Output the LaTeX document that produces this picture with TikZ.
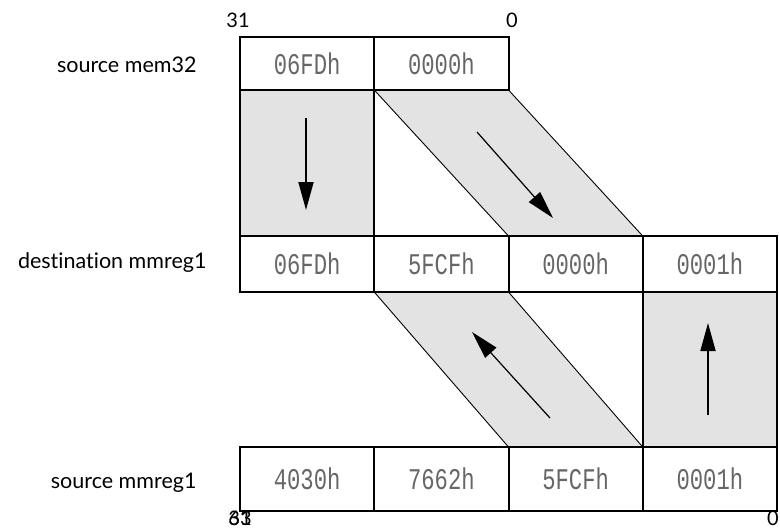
\documentclass[tikz,border=0pt]{standalone}
\usepackage{fontspec}
\setmainfont[Ligatures=NoCommon]{Lato}
\newfontfamily\cellfont[FakeStretch=0.74]{Liberation Mono}
\usetikzlibrary{positioning,arrows.meta,backgrounds}

\begin{document}
\begin{tikzpicture}[x=1pt, y=-1pt, node distance=0pt, >={Triangle[length=28pt,width=15pt]}]
    \tikzstyle{cell}=[draw, line width=2pt, minimum width=134.25pt, inner sep=0pt, outer sep=0pt, font=\cellfont\fontsize{30}{30}\selectfont, text=black!60]
    \tikzstyle{band}=[fill=black!11, draw, line width=0.9pt]
    \tikzstyle{block}=[fill=black!11, draw, line width=2pt]
    \tikzstyle{lbl}=[font=\fontsize{21.5}{22}\selectfont, anchor=east]
    \tikzstyle{bit}=[font=\fontsize{20}{20}\selectfont, inner sep=0pt]
    \tikzstyle{flow}=[->, line width=1.8pt]

    \useasboundingbox (0,0) rectangle (780,530);

    % source mem32
    \node[cell, minimum height=53pt, anchor=north west] (m1) at (240,37) {06FDh};
    \node[cell, minimum height=53pt, right=of m1] (m2) {0000h};

    % destination mmreg1
    \node[cell, minimum height=56pt, anchor=north west] (d1) at (240,236) {06FDh};
    \node[cell, minimum height=56pt, right=of d1] (d2) {5FCFh};
    \node[cell, minimum height=56pt, right=of d2] (d3) {0000h};
    \node[cell, minimum height=56pt, right=of d3] (d4) {0001h};

    % source mmreg1
    \node[cell, minimum height=64pt, anchor=north west] (s1) at (240,447) {4030h};
    \node[cell, minimum height=64pt, right=of s1] (s2) {7662h};
    \node[cell, minimum height=64pt, right=of s2] (s3) {5FCFh};
    \node[cell, minimum height=64pt, right=of s3] (s4) {0001h};

    \node[lbl] (lm) at (200,65) {source mem32};
    \node[lbl] (ld) at (210,263) {destination mmreg1};
    \node[lbl] (ls) at (200,483) {source mmreg1};

    \node[bit] (b31) at (238,20) {31};
    \node[bit] (b0) at (512,20) {0};
    \node[bit] (c63) at (240,518) {63};
    \node[bit] (c31) at (240,518) {31};
    \node[bit] (c0) at (773,518) {0};

    % shaded moves
    \begin{scope}[on background layer]
        \draw[block] (m1.south west) rectangle (d1.north east);
        \draw[band] (m2.south west) -- (m2.south east) -- (d3.north east) -- (d3.north west) -- cycle;
        \draw[band] (d2.south west) -- (d2.south east) -- (s3.north east) -- (s3.north west) -- cycle;
        \draw[block] (d4.south west) rectangle (s4.north east);
    \end{scope}

    \coordinate (a1) at (306,118);
    \coordinate (a2) at (306,210);
    \coordinate (b1) at (477,132);
    \coordinate (b2) at (553,218);
    \coordinate (c1) at (550,418);
    \coordinate (c2) at (472,332);
    \coordinate (e1) at (708,415);
    \coordinate (e2) at (708,323);

    \draw[flow] (a1) -- (a2);
    \draw[flow, line width=1.2pt] (b1) -- (b2);
    \draw[flow, line width=1.2pt] (c1) -- (c2);
    \draw[flow] (e1) -- (e2);
\end{tikzpicture}
\end{document}
